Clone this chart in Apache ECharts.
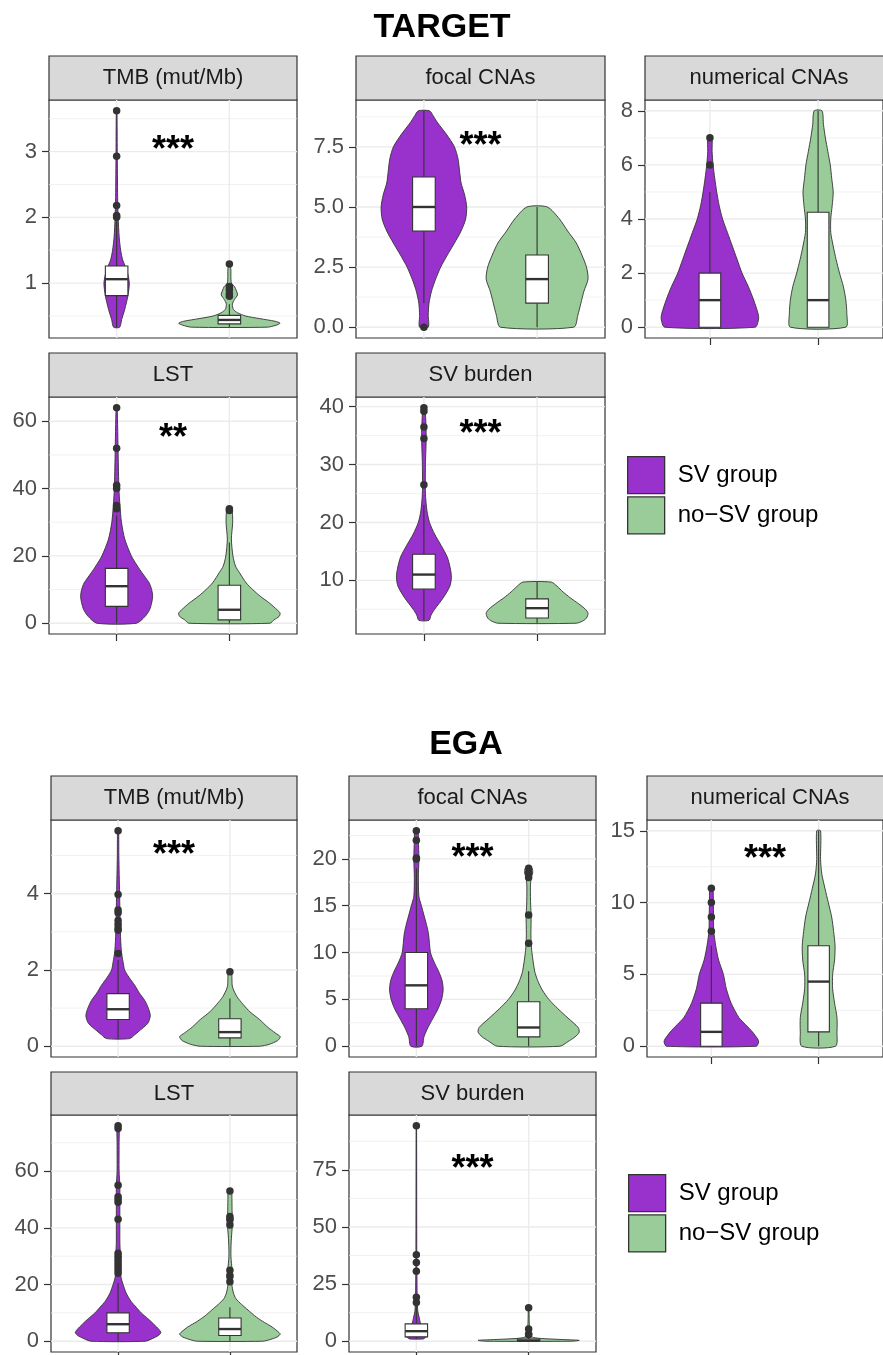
<!DOCTYPE html>
<html>
<head>
<meta charset="utf-8">
<title>SV group violins</title>
<script src="https://cdn.jsdelivr.net/npm/echarts@6/dist/echarts.min.js"></script>
<style>
  body { margin: 0; background: #fff; }
  #chart { width: 883px; height: 1355px; }
</style>
</head>
<body>
<div id="chart"></div>
<script>
// violin profiles: [value, relative half-width (1 = widest violin)]
// boxes: [group, lower whisker, q1, median, q3, upper whisker]
// outliers: [group, value]; stars: [x, y, label]

// TARGET
const tTmbSv = [[0.33,0.06],[0.45,0.1],[0.6,0.16],[0.8,0.22],[1.0,0.25],[1.2,0.2],[1.35,0.12],[1.5,0.08],[1.7,0.05],[2.0,0.03],[2.3,0.02],[3.0,0.012],[3.62,0.006]];
const tTmbNo = [[0.33,0.75],[0.36,0.92],[0.39,1.0],[0.42,0.9],[0.46,0.6],[0.5,0.32],[0.55,0.16],[0.6,0.08],[0.68,0.06],[0.75,0.1],[0.82,0.16],[0.88,0.14],[0.95,0.1],[1.0,0.04],[1.1,0.03],[1.2,0.03],[1.29,0.01]];
const tTmbBox = [[1,0.33,0.81,1.06,1.26,1.94],[2,0.33,0.38,0.44,0.51,0.68]];
const tTmbOut = [[1,2.0],[1,2.03],[1,2.18],[1,2.93],[1,3.62],[2,0.8],[2,0.84],[2,0.9],[2,0.95],[2,1.29]];
const tTmbStar = [1.5, 3.13, '***'];
const tTmbTicks = [1, 2, 3];

const tFocSv = [[0,0.085],[0.5,0.085],[1,0.1],[1.5,0.15],[2,0.23],[2.5,0.33],[3,0.46],[3.5,0.6],[4,0.73],[4.5,0.82],[5,0.84],[5.5,0.8],[6,0.73],[6.5,0.7],[7,0.67],[7.5,0.6],[8,0.45],[8.5,0.27],[8.8,0.18],[9,0.11]];
const tFocNo = [[0,0.72],[0.5,0.8],[1,0.86],[1.5,0.92],[2,1.0],[2.5,0.97],[3,0.88],[3.5,0.77],[4,0.6],[4.5,0.44],[5,0.2]];
const tFocBox = [[1,1,4,5,6.25,9],[2,0,1,2,3,5]];
const tFocOut = [[1,0]];
const tFocStar = [1.5, 7.81, '***'];
const tFocTicks = [0, 2.5, 5, 7.5];

const tNumSv = [[0,0.93],[0.3,1.0],[0.5,0.99],[1,0.9],[1.5,0.79],[2,0.66],[2.5,0.56],[3,0.46],[3.5,0.36],[4,0.26],[4.5,0.19],[5,0.14],[5.5,0.1],[6,0.065],[6.5,0.045],[7,0.04]];
const tNumNo = [[0,0.57],[0.5,0.59],[1,0.57],[1.5,0.52],[2,0.44],[2.5,0.37],[3,0.31],[3.5,0.26],[4,0.26],[4.5,0.29],[5,0.31],[5.5,0.28],[6,0.25],[6.5,0.2],[7,0.15],[7.5,0.11],[8,0.08]];
const tNumBox = [[1,0,0,1,2,5],[2,0,0,1,4.25,8]];
const tNumOut = [[1,6],[1,7]];
const tNumTicks = [0, 2, 4, 6, 8];

const tLstSv = [[0,0.39],[2,0.56],[4,0.65],[6,0.69],[8,0.71],[10,0.69],[12,0.64],[15,0.5],[17,0.41],[20,0.29],[25,0.16],[30,0.095],[35,0.065],[40,0.045],[50,0.03],[64,0.01]];
const tLstNo = [[0,0.8],[1,0.88],[2,0.98],[3,1.0],[4,0.94],[6,0.79],[8,0.61],[10,0.46],[12,0.33],[15,0.2],[17,0.12],[20,0.07],[25,0.04],[30,0.065],[34,0.045]];
const tLstBox = [[1,0,5,11,16.3,32],[2,0,1,4,11.3,24]];
const tLstOut = [[1,34],[1,35],[1,40],[1,41],[1,52],[1,64],[2,33.5],[2,34]];
const tLstStar = [1.5, 57, '**'];
const tLstTicks = [0, 20, 40, 60];

const tSvbSv = [[3.1,0.1],[4,0.14],[5,0.21],[7,0.38],[9,0.51],[10.5,0.54],[12,0.52],[14,0.46],[16,0.34],[18,0.21],[20,0.11],[22,0.06],[25,0.03],[30,0.03],[35,0.045],[39.8,0.02]];
const tSvbNo = [[2.6,0.77],[3,0.9],[3.5,0.97],[4.3,1.0],[5,0.95],[6,0.81],[7,0.65],[8,0.51],[9,0.39],[9.7,0.28]];
const tSvbBox = [[1,3.1,8.5,11,14.5,23],[2,2.6,3.5,5.2,6.8,9.7]];
const tSvbOut = [[1,26.5],[1,34.5],[1,36.5],[1,39.2],[1,39.8]];
const tSvbStar = [1.5, 36.4, '***'];
const tSvbTicks = [10, 20, 30, 40];

// EGA
const eTmbSv = [[0.2,0.23],[0.3,0.33],[0.4,0.42],[0.6,0.59],[0.8,0.64],[1.0,0.6],[1.2,0.53],[1.4,0.42],[1.6,0.33],[1.8,0.22],[2.0,0.13],[2.2,0.1],[2.5,0.065],[3,0.045],[4,0.03],[5,0.015],[5.65,0.01]];
const eTmbNo = [[0,0.59],[0.05,0.78],[0.15,0.95],[0.25,1.0],[0.35,0.9],[0.5,0.75],[0.7,0.59],[0.9,0.4],[1.1,0.26],[1.3,0.14],[1.5,0.065],[1.6,0.045],[1.8,0.04],[1.95,0.03]];
const eTmbBox = [[1,0.2,0.7,0.97,1.38,2.26],[2,0,0.22,0.37,0.72,1.25]];
const eTmbOut = [[1,2.43],[1,3.04],[1,3.1],[1,3.2],[1,3.3],[1,3.5],[1,3.57],[1,3.98],[1,5.65],[2,1.95]];
const eTmbStar = [1.5, 5.2, '***'];
const eTmbTicks = [0, 2, 4];

const eFocSv = [[0,0.11],[1,0.15],[2,0.23],[3,0.33],[4,0.43],[5,0.5],[6,0.53],[7,0.51],[8,0.44],[9,0.35],[10,0.28],[12,0.24],[13,0.2],[14,0.15],[15,0.1],[16,0.05],[18,0.04],[20,0.05],[22,0.04],[23,0.03]];
const eFocNo = [[0,0.62],[0.5,0.78],[1,0.92],[1.5,1.0],[2,0.98],[3,0.78],[4,0.58],[5,0.4],[6,0.27],[7,0.18],[8,0.12],[10,0.065],[11,0.05],[12,0.045],[14,0.05],[15,0.04],[17,0.035],[18,0.05],[18.5,0.08],[19,0.065]];
const eFocBox = [[1,0,4,6.5,10,19],[2,0,1,2,4.75,8]];
const eFocOut = [[1,20],[1,20.1],[1,22],[1,23],[2,11],[2,14],[2,18],[2,18.5],[2,19]];
const eFocStar = [1.5, 20.8, '***'];
const eFocTicks = [0, 5, 10, 15, 20];

const eNumSv = [[0,0.93],[0.3,0.98],[0.5,0.96],[1,0.85],[1.5,0.71],[2,0.57],[3,0.41],[4,0.31],[5,0.25],[6,0.15],[7,0.09],[8,0.05],[9,0.045],[10,0.04],[11,0.03]];
const eNumNo = [[0,0.35],[1,0.38],[2,0.38],[3,0.33],[4,0.29],[5,0.29],[6,0.33],[7,0.34],[8,0.31],[9,0.27],[10,0.2],[11,0.13],[12,0.065],[13,0.04],[15,0.04]];
const eNumBox = [[1,0,0,1,3,7],[2,0,1,4.5,7,15]];
const eNumOut = [[1,8],[1,9],[1,10],[1,11]];
const eNumStar = [1.5, 13.5, '***'];
const eNumTicks = [0, 5, 10, 15];

const eLstSv = [[0,0.54],[1,0.69],[2,0.8],[3,0.85],[4,0.82],[6,0.71],[8,0.59],[10,0.46],[12,0.36],[14,0.26],[17,0.16],[20,0.1],[22,0.065],[25,0.04],[30,0.045],[35,0.035],[43,0.035],[50,0.035],[55,0.035],[60,0.02],[70,0.02],[76,0.02]];
const eLstNo = [[0,0.65],[0.5,0.78],[1.5,0.94],[2.5,1.0],[3,0.98],[5,0.84],[7,0.65],[9,0.49],[11,0.36],[13,0.23],[15,0.12],[17,0.07],[20,0.04],[23,0.06],[25,0.045],[30,0.02],[35,0.025],[40,0.045],[43,0.06],[45,0.045],[50,0.04],[53,0.03]];
const eLstBox = [[1,0,3,6,10,20.5],[2,0,2,4.3,8.2,12]];
const eLstOut = [[1,24],[1,25],[1,26],[1,27],[1,28],[1,29],[1,30],[1,31],[1,43],[1,49],[1,50],[1,51],[1,55],[1,75],[1,76],
                 [2,21],[2,23],[2,25],[2,41],[2,43],[2,44],[2,53]];
const eLstStar = null;
const eLstTicks = [0, 20, 40, 60];

const eSvbSv = [[1,0.14],[1.5,0.17],[2,0.2],[3,0.2],[4,0.18],[6,0.12],[8,0.08],[10,0.06],[13,0.03],[17,0.02],[20,0.015],[40,0.008],[94.3,0.004]];
const eSvbNo = [[0,0.85],[0.4,1.0],[0.8,0.6],[1.2,0.25],[1.6,0.1],[2.2,0.05],[3,0.035],[5,0.03],[7,0.015],[10,0.01],[14.6,0.005]];
const eSvbBox = [[1,1,1.9,4.4,7.6,16.5],[2,0,0,0.3,1,2.5]];
const eSvbOut = [[1,17],[1,19.2],[1,30.6],[1,34.5],[1,37.8],[1,94.3],[2,2.8],[2,3.2],[2,5.4],[2,14.6]];
const eSvbStar = [1.5, 78.3, '***'];
const eSvbTicks = [0, 25, 50, 75];

const groupNames = ['SV group', 'no\u2212SV group'];

// ---- layout ----
const X_MIN = 0.4, X_MAX = 2.6, VIOLIN_HALF = 0.45, BOX_HALF = 0.1;
const SV_COLOR = '#9932cc', NO_COLOR = '#99cc99';
const FONT = '"Liberation Sans", Arial, Helvetica, sans-serif';

const panels = [
  { title: 'TMB (mut/Mb)', sv: tTmbSv, no: tTmbNo, box: tTmbBox, out: tTmbOut, star: tTmbStar, ticks: tTmbTicks, dec: 0, rect: [49, 100, 248, 238], strip: 56, xTicks: false },
  { title: 'focal CNAs', sv: tFocSv, no: tFocNo, box: tFocBox, out: tFocOut, star: tFocStar, ticks: tFocTicks, dec: 1, rect: [356, 100, 249, 238], strip: 56, xTicks: false },
  { title: 'numerical CNAs', sv: tNumSv, no: tNumNo, box: tNumBox, out: tNumOut, star: null, ticks: tNumTicks, dec: 0, rect: [645, 100, 248, 238], strip: 56, xTicks: true },
  { title: 'LST', sv: tLstSv, no: tLstNo, box: tLstBox, out: tLstOut, star: tLstStar, ticks: tLstTicks, dec: 0, rect: [49, 397, 248, 237], strip: 353, xTicks: true },
  { title: 'SV burden', sv: tSvbSv, no: tSvbNo, box: tSvbBox, out: tSvbOut, star: tSvbStar, ticks: tSvbTicks, dec: 0, rect: [356, 397, 249, 237], strip: 353, xTicks: true },
  { title: 'TMB (mut/Mb)', sv: eTmbSv, no: eTmbNo, box: eTmbBox, out: eTmbOut, star: eTmbStar, ticks: eTmbTicks, dec: 0, rect: [51, 820, 246, 237], strip: 776, xTicks: false },
  { title: 'focal CNAs', sv: eFocSv, no: eFocNo, box: eFocBox, out: eFocOut, star: eFocStar, ticks: eFocTicks, dec: 0, rect: [349, 820, 247, 237], strip: 776, xTicks: false },
  { title: 'numerical CNAs', sv: eNumSv, no: eNumNo, box: eNumBox, out: eNumOut, star: eNumStar, ticks: eNumTicks, dec: 0, rect: [647, 820, 246, 237], strip: 776, xTicks: true },
  { title: 'LST', sv: eLstSv, no: eLstNo, box: eLstBox, out: eLstOut, star: eLstStar, ticks: eLstTicks, dec: 0, rect: [51, 1115, 246, 237], strip: 1072, xTicks: true },
  { title: 'SV burden', sv: eSvbSv, no: eSvbNo, box: eSvbBox, out: eSvbOut, star: eSvbStar, ticks: eSvbTicks, dec: 0, rect: [349, 1115, 247, 237], strip: 1072, xTicks: true }
];

function extentOf(p) {
  const vals = p.sv.map(d => d[0]).concat(p.no.map(d => d[0]), p.out.map(d => d[1]));
  const mn = Math.min(...vals), mx = Math.max(...vals), pad = (mx - mn) * 0.05;
  return [mn - pad, mx + pad];
}

function minorsOf(ticks, lo, hi) {
  const step = ticks[1] - ticks[0], res = [];
  for (let v = ticks[0] - step / 2; v <= hi; v += step) if (v >= lo) res.push(v);
  return res;
}

const grid = [], xAxis = [], yAxis = [], series = [], graphic = [];

panels.forEach((p, i) => {
  const [l, t, w, h] = p.rect;
  const [lo, hi] = extentOf(p);
  grid.push({ left: l, top: t, width: w, height: h, show: true, borderColor: '#333', borderWidth: 1.2, backgroundColor: '#fff' });
  xAxis.push({
    gridIndex: i, type: 'value', min: X_MIN, max: X_MAX,
    axisLine: { show: false, onZero: false }, axisLabel: { show: false }, splitLine: { show: false },
    axisTick: { show: p.xTicks, customValues: [1, 2], length: 7, lineStyle: { color: '#333', width: 1.2 } }
  });
  yAxis.push({
    gridIndex: i, type: 'value', min: lo, max: hi,
    axisLine: { show: false, onZero: false }, splitLine: { show: false },
    axisTick: { show: true, customValues: p.ticks, length: 7, lineStyle: { color: '#333', width: 1.2 } },
    axisLabel: { customValues: p.ticks, margin: 12, color: '#4d4d4d', fontSize: 22, fontFamily: FONT, formatter: v => Number(v).toFixed(p.dec) }
  });

  const gridData = p.ticks.filter(v => v >= lo && v <= hi).map(v => [0, v])
    .concat(minorsOf(p.ticks, lo, hi).map(v => [1, v]), [[2, 1], [2, 2]]);
  series.push({
    type: 'custom', xAxisIndex: i, yAxisIndex: i, z: 1, silent: true,
    encode: { x: 0, y: 1 }, data: gridData,
    renderItem: (params, api) => {
      const kind = api.value(0), v = api.value(1);
      const a = kind === 2 ? api.coord([v, lo]) : api.coord([X_MIN, v]);
      const b = kind === 2 ? api.coord([v, hi]) : api.coord([X_MAX, v]);
      return { type: 'line', shape: { x1: a[0], y1: a[1], x2: b[0], y2: b[1] },
        style: { stroke: '#ebebeb', lineWidth: kind === 1 ? 0.7 : 1.4 } };
    }
  });

  [[p.sv, 1, SV_COLOR, groupNames[0]], [p.no, 2, NO_COLOR, groupNames[1]]].forEach(([prof, gx, color, name]) => {
    series.push({
      type: 'custom', name: name, xAxisIndex: i, yAxisIndex: i, z: 2, silent: true,
      itemStyle: { color: color }, encode: { x: 0, y: 1 },
      data: [[gx, prof[prof.length - 1][0]]],
      renderItem: (params, api) => {
        const left = prof.map(d => api.coord([gx - d[1] * VIOLIN_HALF, d[0]]));
        const right = prof.map(d => api.coord([gx + d[1] * VIOLIN_HALF, d[0]])).reverse();
        return { type: 'polygon', shape: { points: left.concat(right), smooth: 0.25 },
          style: { fill: color, stroke: '#333', lineWidth: 0.9 } };
      }
    });
  });

  series.push({
    type: 'custom', xAxisIndex: i, yAxisIndex: i, z: 3, silent: true,
    encode: { x: 0, y: [1, 2, 3, 4, 5] }, data: p.box,
    renderItem: (params, api) => {
      const gx = api.value(0);
      const c = [1, 2, 3, 4, 5].map(k => api.coord([gx, api.value(k)]));
      const xl = api.coord([gx - BOX_HALF, 0])[0], xr = api.coord([gx + BOX_HALF, 0])[0];
      const ln = { stroke: '#333', lineWidth: 1.1 };
      return { type: 'group', children: [
        { type: 'line', shape: { x1: c[0][0], y1: c[0][1], x2: c[1][0], y2: c[1][1] }, style: ln },
        { type: 'line', shape: { x1: c[3][0], y1: c[3][1], x2: c[4][0], y2: c[4][1] }, style: ln },
        { type: 'rect', shape: { x: xl, y: c[3][1], width: xr - xl, height: c[1][1] - c[3][1] },
          style: { fill: '#fff', stroke: '#333', lineWidth: 1.1 } },
        { type: 'line', shape: { x1: xl, y1: c[2][1], x2: xr, y2: c[2][1] }, style: { stroke: '#333', lineWidth: 2.4 } }
      ] };
    }
  });

  series.push({
    type: 'scatter', xAxisIndex: i, yAxisIndex: i, z: 4, silent: true,
    symbolSize: 7.5, itemStyle: { color: '#333', opacity: 1 }, data: p.out
  });

  if (p.star) {
    const star = p.star;
    series.push({
      type: 'custom', xAxisIndex: i, yAxisIndex: i, z: 5, silent: true,
      encode: { x: 0, y: 1 }, data: [[star[0], star[1]]],
      renderItem: (params, api) => {
        const pt = api.coord([api.value(0), api.value(1)]);
        return { type: 'text', x: pt[0], y: pt[1] + 8,
          style: { text: star[2], fill: '#000', font: 'bold 36px ' + FONT, textAlign: 'center', textVerticalAlign: 'middle' } };
      }
    });
  }

  graphic.push({ type: 'rect', shape: { x: l, y: p.strip, width: w, height: t - p.strip },
    style: { fill: '#d9d9d9', stroke: '#333', lineWidth: 1.2 } });
  graphic.push({ type: 'text', x: l + w / 2, y: (p.strip + t) / 2,
    style: { text: p.title, fill: '#1a1a1a', font: '22px ' + FONT, textAlign: 'center', textVerticalAlign: 'middle' } });
});

graphic.push({ type: 'text', x: 442, y: 28,
  style: { text: 'TARGET', fill: '#000', font: 'bold 34px ' + FONT, textAlign: 'center', textVerticalAlign: 'middle' } });
graphic.push({ type: 'text', x: 466, y: 745,
  style: { text: 'EGA', fill: '#000', font: 'bold 34px ' + FONT, textAlign: 'center', textVerticalAlign: 'middle' } });

function legendAt(left, top) {
  return {
    orient: 'vertical', left: left, top: top, padding: 0, icon: 'rect', selectedMode: false,
    itemWidth: 37, itemHeight: 37, itemGap: 2, data: groupNames,
    itemStyle: { borderColor: '#333', borderWidth: 1.3 },
    textStyle: { fontSize: 24, color: '#000', fontFamily: FONT, padding: [0, 0, 0, 8] }
  };
}

const chart = echarts.init(document.getElementById('chart'));
chart.setOption({
  animation: false,
  backgroundColor: '#fff',
  grid: grid, xAxis: xAxis, yAxis: yAxis, series: series,
  legend: [legendAt(627, 456), legendAt(628, 1174)],
  graphic: graphic
});
</script>
</body>
</html>
